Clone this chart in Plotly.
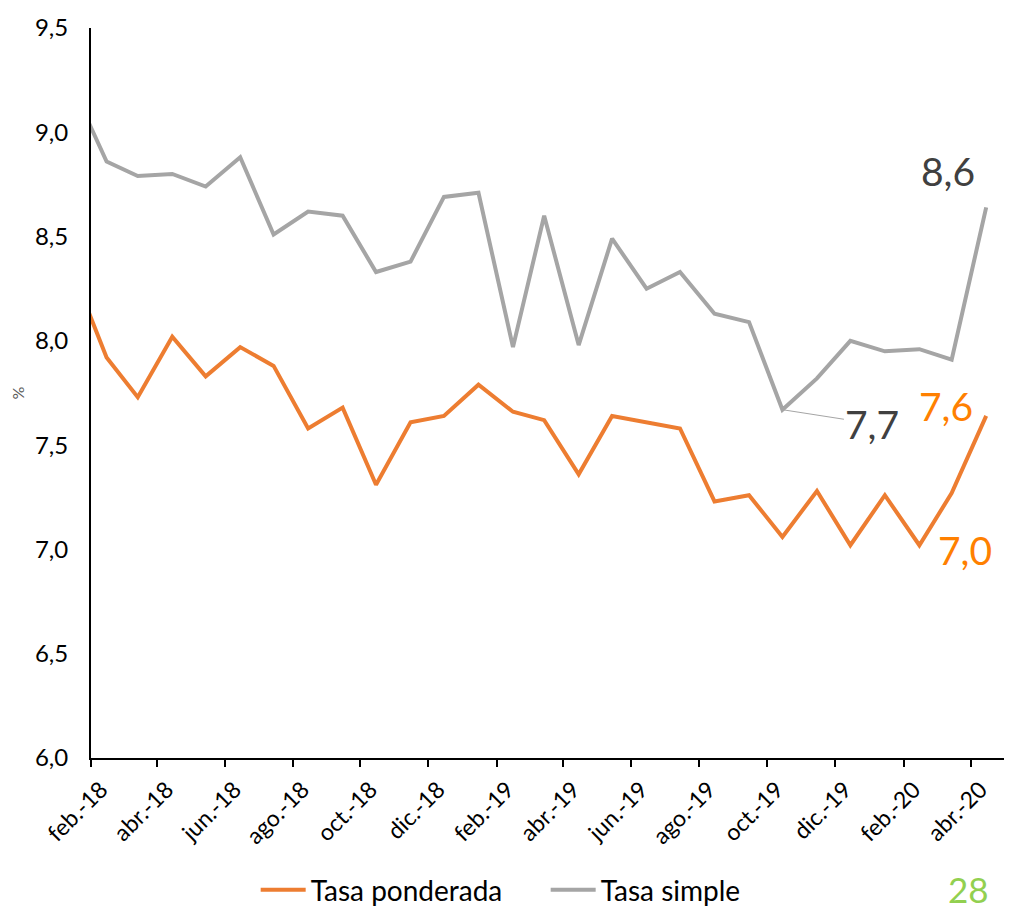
import pandas as pd
import plotly.graph_objects as go

# Monthly observations (first month is clipped by the axis start)
months = ["2018-01", "2018-02", "2018-03", "2018-04", "2018-05", "2018-06", "2018-07",
          "2018-08", "2018-09", "2018-10", "2018-11", "2018-12", "2019-01", "2019-02",
          "2019-03", "2019-04", "2019-05", "2019-06", "2019-07", "2019-08", "2019-09",
          "2019-10", "2019-11", "2019-12", "2020-01", "2020-02", "2020-03", "2020-04"]

tasa_ponderada = [8.34, 7.92, 7.73, 8.02, 7.83, 7.97, 7.88, 7.58, 7.68, 7.31, 7.61, 7.64,
                  7.79, 7.66, 7.62, 7.36, 7.64, 7.61, 7.58, 7.23, 7.26, 7.06, 7.28, 7.02,
                  7.26, 7.02, 7.27, 7.64]

tasa_simple = [9.22, 8.86, 8.79, 8.80, 8.74, 8.88, 8.51, 8.62, 8.60, 8.33, 8.38, 8.69,
               8.71, 7.97, 8.60, 7.98, 8.49, 8.25, 8.33, 8.13, 8.09, 7.67, 7.82, 8.00,
               7.95, 7.96, 7.91, 8.64]

tick_dates = ["2018-02-01", "2018-04-01", "2018-06-01", "2018-08-01", "2018-10-01",
              "2018-12-01", "2019-02-01", "2019-04-01", "2019-06-01", "2019-08-01",
              "2019-10-01", "2019-12-01", "2020-02-01", "2020-04-01"]
tick_labels = ["feb.-18", "abr.-18", "jun.-18", "ago.-18", "oct.-18", "dic.-18",
               "feb.-19", "abr.-19", "jun.-19", "ago.-19", "oct.-19", "dic.-19",
               "feb.-20", "abr.-20"]

series_names = ["Tasa ponderada", "Tasa simple"]

# each value plotted in the middle of its month
x = pd.to_datetime(months) + pd.Timedelta(days=14)

ORANGE = "#ED7D31"
GRAY = "#A5A5A5"
FONT = "Lato"


def fmt(v):
    return f"{v:.1f}".replace(".", ",")


fig = go.Figure()
fig.add_trace(go.Scatter(x=x, y=tasa_ponderada, mode="lines", name=series_names[0],
                         line=dict(color=ORANGE, width=4)))
fig.add_trace(go.Scatter(x=x, y=tasa_simple, mode="lines", name=series_names[1],
                         line=dict(color=GRAY, width=4)))

# data labels
fig.add_annotation(x=x[-1], y=tasa_simple[-1], text=fmt(tasa_simple[-1]),
                   showarrow=False, xshift=-38, yshift=36,
                   font=dict(family=FONT, size=39, color="#404040"))
i_min = tasa_simple.index(min(tasa_simple))
fig.add_annotation(x=x[i_min], y=tasa_simple[i_min], text=fmt(tasa_simple[i_min]),
                   showarrow=True, arrowhead=0, arrowwidth=1, arrowcolor=GRAY,
                   ax=90, ay=14, font=dict(family=FONT, size=39, color="#404040"))
fig.add_annotation(x=x[-1], y=tasa_ponderada[-1], text=fmt(tasa_ponderada[-1]),
                   showarrow=False, xshift=-40, yshift=10,
                   font=dict(family=FONT, size=39, color="#FF8000"))
fig.add_annotation(x=x[25], y=tasa_ponderada[25], text=fmt(tasa_ponderada[25]),
                   showarrow=False, xshift=46, yshift=-5,
                   font=dict(family=FONT, size=39, color="#FF8000"))
# page number
fig.add_annotation(xref="paper", yref="paper", x=0.9606, y=-0.1795, text="28",
                   xanchor="center", yanchor="middle",
                   showarrow=False, font=dict(family=FONT, size=35, color="#92D050"))

fig.update_layout(
    width=1006, height=906,
    margin=dict(l=83, r=10, t=20, b=156, autoexpand=False),
    paper_bgcolor="white", plot_bgcolor="white",
    separators=",.",
    font=dict(family=FONT, color="black"),
    showlegend=True,
    legend=dict(orientation="h", x=0.498, xanchor="center", y=-0.181, yanchor="middle",
                font=dict(family=FONT, size=28, color="black"), itemwidth=45,
                entrywidth=230, traceorder="normal"),
    xaxis=dict(
        type="date", automargin=False,
        range=["2018-02-01", "2020-05-01"],
        tickvals=tick_dates, ticktext=tick_labels,
        tickangle=-45, tickfont=dict(family=FONT, size=23, color="black"),
        ticks="outside", ticklen=7, tickwidth=1.5, tickcolor="black",
        showline=True, linecolor="black", linewidth=2,
        showgrid=False, zeroline=False, ticklabelshift=10,
    ),
    yaxis=dict(
        automargin=False,
        range=[6, 9.5], dtick=0.5, tick0=6, tickformat=".1f",
        tickfont=dict(family=FONT, size=24, color="black"),
        ticks="", ticklabelstandoff=16,
        showline=True, linecolor="black", linewidth=2,
        showgrid=False, zeroline=False,
        title=dict(text="%", font=dict(family=FONT, size=16, color="#595959"), standoff=8),
    ),
)

fig.write_html("out.html")
